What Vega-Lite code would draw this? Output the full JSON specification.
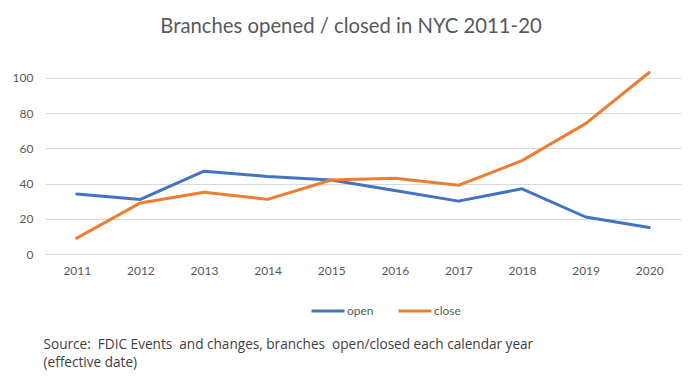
{
  "$schema": "https://vega.github.io/schema/vega-lite/v6.json",
  "width": 636,
  "height": 185,
  "autosize": {"type": "none"},
  "padding": {"left": 45, "top": 69, "right": 19, "bottom": 126},
  "background": "white",
  "title": {
    "text": "Branches opened / closed in NYC 2011-20",
    "font": "Lato",
    "fontSize": 20.3,
    "fontWeight": "normal",
    "color": "#595959",
    "anchor": "middle",
    "dx": -12,
    "offset": 32
  },
  "data": {
    "values": [
      {"year": "2011", "series": "open", "value": 34},
      {"year": "2012", "series": "open", "value": 31},
      {"year": "2013", "series": "open", "value": 47},
      {"year": "2014", "series": "open", "value": 44},
      {"year": "2015", "series": "open", "value": 42},
      {"year": "2016", "series": "open", "value": 36},
      {"year": "2017", "series": "open", "value": 30},
      {"year": "2018", "series": "open", "value": 37},
      {"year": "2019", "series": "open", "value": 21},
      {"year": "2020", "series": "open", "value": 15},
      {"year": "2011", "series": "close", "value": 9},
      {"year": "2012", "series": "close", "value": 29},
      {"year": "2013", "series": "close", "value": 35},
      {"year": "2014", "series": "close", "value": 31},
      {"year": "2015", "series": "close", "value": 42},
      {"year": "2016", "series": "close", "value": 43},
      {"year": "2017", "series": "close", "value": 39},
      {"year": "2018", "series": "close", "value": 53},
      {"year": "2019", "series": "close", "value": 74},
      {"year": "2020", "series": "close", "value": 103}
    ]
  },
  "mark": {"type": "line", "strokeWidth": 3, "strokeCap": "round", "strokeJoin": "round"},
  "encoding": {
    "x": {
      "field": "year",
      "type": "ordinal",
      "scale": {"type": "point", "padding": 0.5},
      "axis": {
        "labelAngle": 0,
        "labelFont": "Lato",
        "labelFontSize": 12,
        "labelColor": "#595959",
        "labelPadding": 11,
        "ticks": false,
        "domain": true,
        "domainColor": "#d9d9d9",
        "grid": false,
        "title": ["Source:\u00a0 FDIC Events\u00a0 and changes, branches\u00a0 open/closed each calendar year", "(effective date)"],
        "titleFont": "Open Sans",
        "titleFontSize": 13.6,
        "titleFontWeight": "normal",
        "titleColor": "#404040",
        "titleAlign": "left",
        "titleBaseline": "top",
        "titleX": -2,
        "titleY": 83,
        "titleLineHeight": 18
      }
    },
    "y": {
      "field": "value",
      "type": "quantitative",
      "scale": {"domain": [0, 105], "nice": false},
      "axis": {
        "values": [0, 20, 40, 60, 80, 100],
        "title": null,
        "labelFont": "Lato",
        "labelFontSize": 12,
        "labelColor": "#595959",
        "labelPadding": 12,
        "ticks": false,
        "domain": false,
        "gridColor": "#d9d9d9",
        "gridWidth": 1
      }
    },
    "color": {
      "field": "series",
      "type": "nominal",
      "sort": ["open", "close"],
      "scale": {"domain": ["open", "close"], "range": ["#4472C4", "#ED7D31"]},
      "legend": {
        "title": null,
        "orient": "none",
        "direction": "horizontal",
        "legendX": 265,
        "legendY": 224,
        "symbolType": "stroke",
        "symbolSize": 1089,
        "symbolStrokeWidth": 3,
        "labelFont": "Lato",
        "labelFontSize": 12,
        "labelColor": "#595959",
        "labelOffset": 1,
        "columnPadding": 18
      }
    }
  },
  "config": {
    "view": {"stroke": null}
  }
}
